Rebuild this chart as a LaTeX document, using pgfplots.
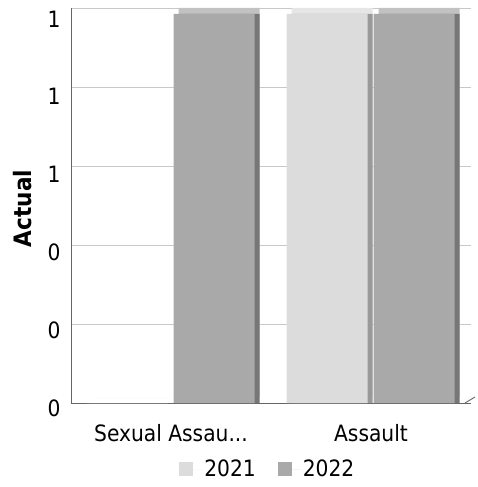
\documentclass[border=0pt]{standalone}
\usepackage{pgfplots}
\pgfplotsset{compat=1.18}
\usepackage{fontspec}
\setmainfont{DejaVu Sans Condensed}
\definecolor{faceA}{HTML}{DCDCDC}
\definecolor{sideA}{HTML}{999999}
\definecolor{topA}{HTML}{E6E6E6}
\definecolor{faceB}{HTML}{A9A9A9}
\definecolor{sideB}{HTML}{777777}
\definecolor{topB}{HTML}{C2C2C2}
\definecolor{gridc}{HTML}{C8C8C8}
\begin{document}
\begin{tikzpicture}
% back wall: grid and axis lines
\begin{axis}[
  scale only axis, width=400pt, height=395pt,
  xmin=-0.5, xmax=1.5, ymin=0, ymax=1,
  axis x line=bottom, axis y line=left,
  axis line style={-, draw=black!60, line width=0.9pt},
  xtick=\empty, ytick={0,0.2,0.4,0.6,0.8,1}, yticklabels={},
  ymajorgrids, major grid style={draw=gridc, line width=0.9pt},
  tick style={draw=none},
]
\end{axis}
% front: bars, labels, legend
\begin{axis}[
  scale only axis, width=400pt, height=389pt,
  xmin=-0.5, xmax=1.5, ymin=0, ymax=1,
  axis line style={draw=none}, tick style={draw=none},
  ybar, bar width=81pt, clip=false,
  xtick={0,1}, xticklabels={{Sexual Assau.{}.{}.},{Assault}},
  ytick={0,0.2,0.4,0.6,0.8,1}, yticklabels={0,0,0,1,1,1},
  tick label style={font=\fontsize{22.5}{27}\selectfont},
  yticklabel style={xshift=-7pt, yshift=-5pt},
  xticklabel style={yshift=-14pt},
  ylabel={Actual},
  ylabel style={font=\fontsize{24}{28}\selectfont\bfseries, at={(axis description cs:-0.12,0.5)}, anchor=center},
  legend columns=2,
  legend style={at={(0.492,-0.17)}, anchor=center, draw=none, font=\fontsize{22.5}{27}\selectfont,
    /tikz/every even column/.append style={column sep=20pt}},
  legend image code/.code={\fill[#1] (0pt,-7pt) rectangle (14pt,7pt); \path (0pt,0pt) -- (23pt,0pt);},
]
\addplot[bar shift=-39pt, fill=topA, draw=none, yshift=6pt, forget plot] coordinates {(0,0) (1,1)};
\addplot[bar shift=-39pt, fill=sideA, draw=none, forget plot] coordinates {(0,0) (1,1)};
\addplot[bar shift=-44pt, fill=faceA, draw=none] coordinates {(0,0) (1,1)};
\addlegendentry{2021}
\addplot[bar shift=48pt, fill=topB, draw=none, yshift=6pt, forget plot] coordinates {(0,1) (1,1)};
\addplot[bar shift=48pt, fill=sideB, draw=none, forget plot] coordinates {(0,1) (1,1)};
\addplot[bar shift=43pt, fill=faceB, draw=none] coordinates {(0,1) (1,1)};
\addlegendentry{2022}
\end{axis}
\draw[black!60, line width=0.9pt] (394pt,0pt) -- (404pt,6pt);
\pgfresetboundingbox
\path (-71pt,-84pt) rectangle (406pt,403pt);
\end{tikzpicture}
\end{document}
